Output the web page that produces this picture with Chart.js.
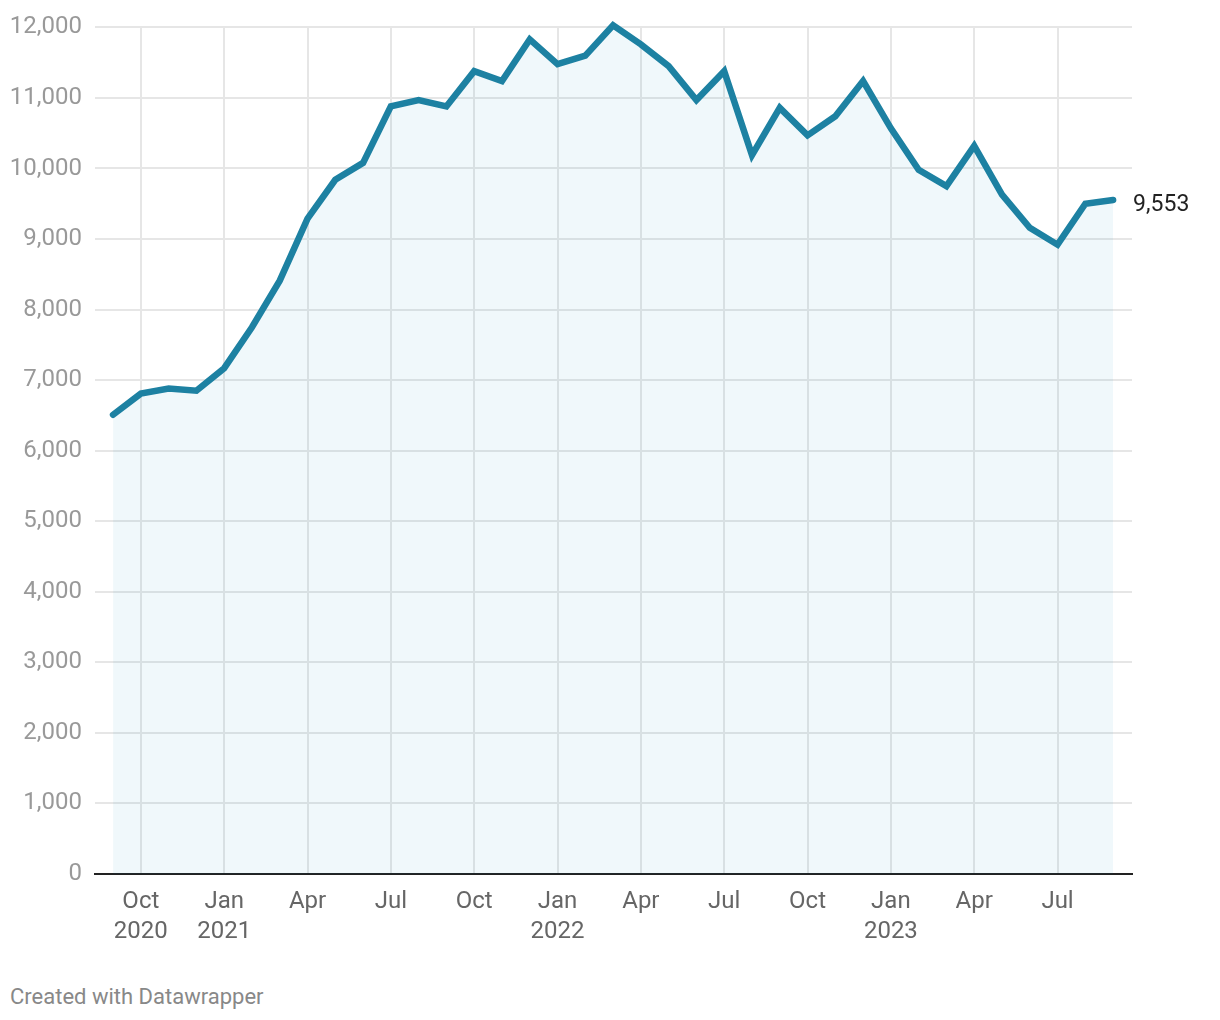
<!DOCTYPE html>
<html>
<head>
<meta charset="utf-8">
<script src="https://cdn.jsdelivr.net/npm/chart.js@4"></script>
<style>
  body { margin: 0; background: #fff; font-family: Roboto, sans-serif; }
  #wrap { position: relative; width: 1220px; height: 960px; }
  .footer { position: absolute; left: 10px; top: 984px; font-size: 22px; color: #888; font-family: Roboto, sans-serif; }
</style>
</head>
<body>
<div id="wrap"><canvas id="grafico" width="1220" height="960"></canvas></div>
<div class="footer">Created with Datawrapper</div>
<script>
const months = [
  '2020-09','2020-10','2020-11','2020-12',
  '2021-01','2021-02','2021-03','2021-04','2021-05','2021-06','2021-07','2021-08','2021-09','2021-10','2021-11','2021-12',
  '2022-01','2022-02','2022-03','2022-04','2022-05','2022-06','2022-07','2022-08','2022-09','2022-10','2022-11','2022-12',
  '2023-01','2023-02','2023-03','2023-04','2023-05','2023-06','2023-07','2023-08','2023-09'
];
const valores = [
  6510, 6810, 6880, 6850,
  7170, 7750, 8410, 9290, 9840, 10080, 10880, 10970, 10880, 11380, 11240, 11830,
  11480, 11600, 12030, 11760, 11450, 10970, 11380, 10190, 10860, 10470, 10740, 11240,
  10570, 9980, 9750, 10320, 9630, 9160, 8920, 9500, 9553
];
const tickMonths = ['2020-10','2021-01','2021-04','2021-07','2021-10','2022-01','2022-04','2022-07','2022-10','2023-01','2023-04','2023-07'];
const tickLabels = [['Oct','2020'],['Jan','2021'],'Apr','Jul','Oct',['Jan','2022'],'Apr','Jul','Oct',['Jan','2023'],'Apr','Jul'];
const yTicks = [0, 1000, 2000, 3000, 4000, 5000, 6000, 7000, 8000, 9000, 10000, 11000, 12000];

const tickIdx = tickMonths.map(m => months.indexOf(m));

// etiqueta con el ultimo valor
const ultimoValor = {
  id: 'ultimoValor',
  afterDatasetsDraw(chart) {
    const meta = chart.getDatasetMeta(0);
    const p = meta.data[meta.data.length - 1];
    const ctx = chart.ctx;
    ctx.save();
    ctx.font = '23px Roboto';
    ctx.fillStyle = '#222';
    ctx.textAlign = 'left';
    ctx.textBaseline = 'middle';
    ctx.fillText(valores[valores.length - 1].toLocaleString('en-US'), p.x + 20, p.y + 5);
    ctx.restore();
  }
};

const ctx = document.getElementById('grafico').getContext('2d');
new Chart(ctx, {
  type: 'line',
  data: {
    datasets: [{
      data: valores.map((v, i) => ({ x: i, y: v })),
      borderColor: '#1d81a2',
      borderWidth: 6.5,
      borderCapStyle: 'round',
      borderJoinStyle: 'miter',
      backgroundColor: 'rgba(0,130,180,0.06)',
      fill: 'origin',
      pointRadius: 0,
      tension: 0,
      clip: false
    }]
  },
  options: {
    responsive: false,
    animation: false,
    layout: { padding: { top: 24, right: 88, left: 0, bottom: 0 } },
    plugins: { legend: { display: false }, tooltip: { enabled: false } },
    scales: {
      x: {
        type: 'linear',
        min: -0.65,
        max: 36.68,
        afterBuildTicks: s => { s.ticks = tickIdx.map(v => ({ value: v })); },
        afterFit: s => { s.height = 86; },
        grid: { color: '#e6e6e6', lineWidth: 2, drawTicks: false },
        border: { color: '#222', width: 2 },
        ticks: {
          autoSkip: false,
          maxRotation: 0,
          padding: 13,
          color: '#666',
          font: { family: 'Roboto', size: 24, lineHeight: 1.25 },
          callback: v => tickLabels[tickIdx.indexOf(v)]
        }
      },
      y: {
        min: 0,
        max: 12000,
        afterBuildTicks: s => { s.ticks = yTicks.map(v => ({ value: v })); },
        afterFit: s => { s.width = 95; },
        grid: { color: '#e6e6e6', lineWidth: 2, drawTicks: false },
        border: { display: false },
        ticks: {
          padding: 13,
          color: '#999',
          font: { family: 'Roboto', size: 24 },
          callback: v => v.toLocaleString('en-US')
        }
      }
    }
  },
  plugins: [ultimoValor]
});
</script>
</body>
</html>
